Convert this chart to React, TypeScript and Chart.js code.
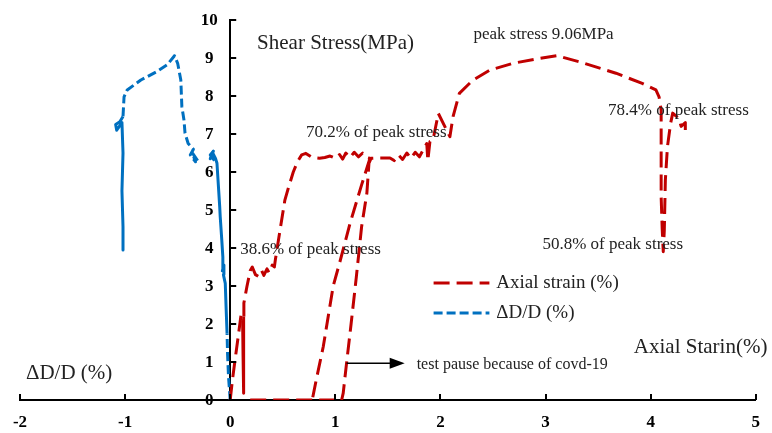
import React, { useEffect, useRef } from 'react';
import { Chart, registerables } from 'chart.js';

Chart.register(...registerables);

type P = [number, number];

// ---- axis ranges ----
const X_MIN = -2;
const X_MAX = 5;
const Y_MIN = 0;
const Y_MAX = 10;

// ---- Axial strain (%) vs shear stress (MPa) ----
const redInitialLoad: P[] = [[0, 0], [0.02, 0.5], [0.05, 1.14], [0.08, 1.75], [0.104, 2.26], [0.118, 2.1]];
const redFirstUnload: P[] = [[0.118, 2.1], [0.122, 1.2], [0.125, 0.18], [0.128, 1.2], [0.13, 2.2]];
const redLoadToPlateau: P[] = [
  [0.13, 2.2], [0.13, 2.55], [0.16, 3.0], [0.19, 3.4], [0.21, 3.5], [0.24, 3.3], [0.27, 3.25], [0.3, 3.4],
  [0.32, 3.28], [0.35, 3.45], [0.37, 3.35], [0.4, 3.55], [0.42, 3.5], [0.43, 3.7], [0.47, 4.4], [0.52, 5.26],
  [0.55, 5.55], [0.6, 6.0], [0.64, 6.27], [0.68, 6.45], [0.72, 6.49], [0.78, 6.38], [0.85, 6.36], [0.9, 6.38],
  [0.95, 6.42], [1.0, 6.36], [1.04, 6.46], [1.07, 6.34], [1.1, 6.5], [1.14, 6.38], [1.18, 6.52], [1.22, 6.4],
  [1.26, 6.5], [1.3, 6.38], [1.33, 6.36],
];
const redPauseUnload: P[] = [
  [1.33, 6.36], [1.25, 5.66], [1.14, 4.65], [1.04, 3.6], [0.98, 3.0], [0.885, 1.4], [0.82, 0.55], [0.78, 0],
];
const redZeroLine: P[] = [[0.19, 0], [1.02, 0]];
const redReload: P[] = [
  [1.06, 0], [1.075, 0.18], [1.107, 0.97], [1.15, 2.0], [1.2, 3.24], [1.25, 4.56], [1.3, 5.44], [1.32, 6.23],
  [1.34, 6.36], [1.42, 6.37], [1.52, 6.37], [1.56, 6.3], [1.6, 6.45], [1.64, 6.33], [1.68, 6.5], [1.72, 6.36],
  [1.76, 6.52], [1.8, 6.4], [1.84, 6.6], [1.87, 6.75], [1.88, 6.3], [1.9, 6.8], [1.93, 6.85], [1.98, 7.54],
  [2.09, 6.93], [2.12, 7.46], [2.18, 8.07], [2.31, 8.42], [2.47, 8.68], [2.69, 8.86], [2.94, 8.99], [3.11, 9.06],
  [3.32, 8.9], [3.67, 8.6], [3.92, 8.33], [4.05, 8.16], [4.08, 7.98], [4.1, 7.63], [4.1, 6.67], [4.1, 5.35],
  [4.11, 4.5], [4.12, 3.9], [4.13, 4.47], [4.14, 5.79], [4.16, 6.67], [4.19, 7.28], [4.21, 7.55], [4.27, 7.4],
  [4.29, 7.2], [4.33, 7.3], [4.33, 7.1],
];

// ---- ΔD/D (%) vs shear stress (MPa) ----
const blueNearOrigin: P[] = [[0, 0], [-0.016, 0.61], [-0.025, 1.2], [-0.03, 1.75]];
const blueNearAxis: P[] = [
  [-0.03, 1.75], [-0.04, 2.5], [-0.047, 3.07], [-0.065, 3.3], [-0.06, 3.55], [-0.075, 3.4], [-0.07, 3.76],
  [-0.08, 4.2], [-0.095, 4.82], [-0.1, 5.09], [-0.126, 6.23], [-0.14, 6.36], [-0.17, 6.52], [-0.19, 6.35],
  [-0.16, 6.55], [-0.19, 6.45], [-0.15, 6.3],
];
const blueUpper: P[] = [
  [-0.31, 6.3], [-0.36, 6.5], [-0.33, 6.27], [-0.38, 6.45], [-0.35, 6.6], [-0.4, 6.75], [-0.43, 7.02],
  [-0.44, 7.37], [-0.46, 7.72], [-0.47, 8.42], [-0.5, 8.86], [-0.53, 9.06], [-0.6, 8.82], [-0.7, 8.64],
  [-0.85, 8.42], [-0.98, 8.16], [-1.01, 7.98], [-1.02, 7.46],
];
const blueVertical: P[] = [
  [-1.02, 7.46], [-1.05, 7.32], [-1.09, 7.25], [-1.08, 7.1], [-1.03, 7.3], [-1.02, 6.5], [-1.03, 5.5],
  [-1.02, 4.56], [-1.02, 3.95],
];

const LEGEND_LABELS = ['Axial strain (%)', '\u0394D/D (%)'];

// ---- annotation texts (anchored in data coordinates) ----
const ANNOTATIONS = [
  { text: 'Shear Stress(MPa)', x: 0.256, y: 9.37, size: 21 },
  { text: 'peak stress 9.06MPa', x: 2.314, y: 9.63, size: 17 },
  { text: '70.2% of peak stress', x: 0.72, y: 7.05, size: 17 },
  { text: '78.4% of peak stress', x: 3.595, y: 7.63, size: 17 },
  { text: '38.6% of peak stress', x: 0.095, y: 3.95, size: 17 },
  { text: '50.8% of peak stress', x: 2.97, y: 4.08, size: 17 },
  { text: 'test pause because of covd-19', x: 1.774, y: 0.92, size: 16 },
  { text: 'Axial Starin(%)', x: 3.84, y: 1.39, size: 21 },
  { text: '\u0394D/D (%)', x: -1.944, y: 0.71, size: 21 },
];
const ARROW = { x1: 1.107, x2: 1.66, y: 0.97 };
const LEGEND_POS = { x1: 1.935, x2: 2.466, xText: 2.532, y: [3.08, 2.29] };

const RED = '#C00000';
const BLUE = '#0070C0';
const RED_DASH = [16, 7];
const BLUE_DASH = [9, 4];
const FONT = '"Liberation Serif", "Times New Roman", serif';
const TICK_FONT = `bold 17px ${FONT}`;

const mk = (pts: P[], color: string, dash: number[]) => ({
  data: pts.map(([x, y]) => ({ x, y })),
  borderColor: color,
  backgroundColor: color,
  borderWidth: 3,
  borderDash: dash,
  borderJoinStyle: 'round',
  pointRadius: 0,
  showLine: true,
  fill: false,
  tension: 0,
});

const overlay = {
  id: 'overlay',
  afterDraw(chart: any) {
    const { ctx } = chart;
    const xs = chart.scales.x;
    const ys = chart.scales.y;
    ctx.save();
    // tick marks (inside)
    ctx.strokeStyle = '#000';
    ctx.lineWidth = 2;
    const x0 = xs.getPixelForValue(0);
    const yb = ys.getPixelForValue(0);
    xs.ticks.forEach((t: any) => {
      const px = Math.round(xs.getPixelForValue(t.value));
      ctx.beginPath();
      ctx.moveTo(px, yb);
      ctx.lineTo(px, yb - 6);
      ctx.stroke();
    });
    ctx.fillStyle = '#000';
    ctx.font = TICK_FONT;
    ctx.textAlign = 'center';
    ctx.textBaseline = 'middle';
    ys.ticks.forEach((t: any) => {
      const py = Math.round(ys.getPixelForValue(t.value));
      ctx.beginPath();
      ctx.moveTo(x0, py);
      ctx.lineTo(x0 + 6, py);
      ctx.stroke();
      ctx.fillText(String(t.value), x0 - 21, py + 1);
    });
    // annotations
    ctx.fillStyle = '#222';
    ctx.textAlign = 'left';
    ctx.textBaseline = 'middle';
    ANNOTATIONS.forEach((a) => {
      ctx.font = `${a.size}px ${FONT}`;
      ctx.fillText(a.text, xs.getPixelForValue(a.x), ys.getPixelForValue(a.y));
    });
    // arrow
    const ax1 = xs.getPixelForValue(ARROW.x1);
    const ax2 = xs.getPixelForValue(ARROW.x2);
    const ay = ys.getPixelForValue(ARROW.y);
    ctx.strokeStyle = '#000';
    ctx.fillStyle = '#000';
    ctx.lineWidth = 1.5;
    ctx.beginPath();
    ctx.moveTo(ax1, ay);
    ctx.lineTo(ax2 - 12, ay);
    ctx.stroke();
    ctx.beginPath();
    ctx.moveTo(ax2, ay);
    ctx.lineTo(ax2 - 15, ay - 5.5);
    ctx.lineTo(ax2 - 15, ay + 5.5);
    ctx.closePath();
    ctx.fill();
    // legend
    const colors = [RED, BLUE];
    const dashes = [RED_DASH, BLUE_DASH];
    LEGEND_LABELS.forEach((label, i) => {
      const ly = ys.getPixelForValue(LEGEND_POS.y[i]);
      ctx.strokeStyle = colors[i];
      ctx.lineWidth = 3;
      ctx.setLineDash(dashes[i]);
      ctx.beginPath();
      ctx.moveTo(xs.getPixelForValue(LEGEND_POS.x1), ly);
      ctx.lineTo(xs.getPixelForValue(LEGEND_POS.x2), ly);
      ctx.stroke();
      ctx.setLineDash([]);
      ctx.fillStyle = '#222';
      ctx.font = `19px ${FONT}`;
      ctx.fillText(label, xs.getPixelForValue(LEGEND_POS.xText), ly);
    });
    ctx.restore();
  },
};

export default function App() {
  const ref = useRef<HTMLCanvasElement | null>(null);
  useEffect(() => {
    if (!ref.current) return;
    const tickFont = { family: FONT, size: 17, weight: 'bold' as const };
    const chart = new Chart(ref.current, {
      type: 'scatter',
      data: {
        datasets: [
          mk(redInitialLoad, RED, RED_DASH),
          mk(redFirstUnload, RED, []),
          mk(redLoadToPlateau, RED, RED_DASH),
          mk(redPauseUnload, RED, RED_DASH),
          mk(redZeroLine, RED, RED_DASH),
          mk(redReload, RED, RED_DASH),
          mk(blueNearOrigin, BLUE, BLUE_DASH),
          mk(blueNearAxis, BLUE, []),
          mk(blueUpper, BLUE, BLUE_DASH),
          mk(blueVertical, BLUE, []),
        ] as any,
      },
      options: {
        animation: false,
        responsive: false,
        devicePixelRatio: 1,
        layout: { padding: { left: 20, right: 14, top: 20, bottom: 0 } },
        plugins: { legend: { display: false }, tooltip: { enabled: false } },
        scales: {
          x: {
            type: 'linear',
            min: X_MIN,
            max: X_MAX,
            position: 'bottom',
            afterFit: (s: any) => { s.height = 33; },
            ticks: { stepSize: 1, font: tickFont, color: '#000', padding: 12 },
            grid: { display: false, drawTicks: false },
            border: { display: true, color: '#000', width: 2 },
          },
          y: {
            type: 'linear',
            min: Y_MIN,
            max: Y_MAX,
            position: { x: 0 } as any,
            ticks: { stepSize: 1, display: false },
            grid: { display: false, drawTicks: false },
            border: { display: true, color: '#000', width: 2 },
          },
        },
      } as any,
      plugins: [overlay],
    });
    return () => chart.destroy();
  }, []);
  return (
    <div style={{ position: 'absolute', left: 0, top: 0, width: 772, height: 433, background: '#fff' }}>
      <canvas ref={ref} width={772} height={433} style={{ display: 'block' }} />
    </div>
  );
}
